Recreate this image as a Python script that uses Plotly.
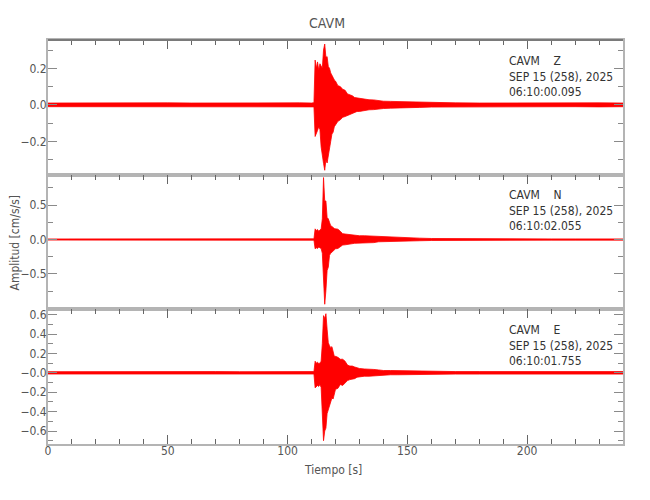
import plotly.graph_objects as go

# ---- data (envelope of each component) ----
t = [0, 10, 20, 30, 40, 50, 60, 70, 80, 90, 100, 105, 110, 111,
     111.5, 112, 112.5, 113, 113.5, 114, 114.5, 115, 115.5, 116, 116.5, 117, 117.5,
     118, 118.5, 119, 119.5, 120, 121, 122, 123, 124, 125, 126, 127, 128, 129, 130,
     132, 134, 136, 138, 140, 143, 146, 150, 155, 160, 170, 180, 190, 200, 210, 220, 230, 240]

z_upper = [0.010, 0.011, 0.010, 0.011, 0.010, 0.011, 0.010, 0.011, 0.010, 0.011, 0.010, 0.011, 0.010, 0.012,
           0.245, 0.200, 0.235, 0.190, 0.225, 0.210, 0.200, 0.300, 0.333, 0.260, 0.264, 0.210, 0.200,
           0.175, 0.165, 0.150, 0.136, 0.130, 0.105, 0.100, 0.085, 0.080, 0.060, 0.055, 0.050, 0.040, 0.038, 0.036,
           0.030, 0.028, 0.027, 0.022, 0.020, 0.019, 0.018, 0.016, 0.014, 0.012, 0.011, 0.010, 0.011, 0.010, 0.011, 0.010, 0.011, 0.010]
z_lower = [-0.010, -0.010, -0.011, -0.010, -0.011, -0.010, -0.011, -0.010, -0.011, -0.010, -0.011, -0.010, -0.011, -0.011,
           -0.173, -0.150, -0.140, -0.120, -0.135, -0.230, -0.264, -0.320, -0.358, -0.300, -0.318, -0.270, -0.245,
           -0.200, -0.160, -0.150, -0.120, -0.109, -0.090, -0.082, -0.068, -0.064, -0.058, -0.055, -0.050, -0.040, -0.036, -0.036,
           -0.030, -0.027, -0.026, -0.022, -0.020, -0.018, -0.018, -0.016, -0.014, -0.012, -0.011, -0.010, -0.011, -0.010, -0.011, -0.010, -0.011, -0.010]

n_upper = [0.008, 0.008, 0.009, 0.008, 0.008, 0.009, 0.008, 0.008, 0.009, 0.008, 0.008, 0.009, 0.008, 0.010,
           0.155, 0.130, 0.145, 0.120, 0.140, 0.150, 0.300, 0.900, 0.560, 0.560, 0.320, 0.300, 0.250,
           0.200, 0.190, 0.170, 0.160, 0.155, 0.150, 0.120, 0.085, 0.080, 0.075, 0.070, 0.065, 0.058, 0.058, 0.055,
           0.055, 0.052, 0.048, 0.036, 0.034, 0.030, 0.030, 0.025, 0.020, 0.015, 0.012, 0.009, 0.009, 0.009, 0.009, 0.009, 0.009, 0.009]
n_lower = [-0.008, -0.009, -0.008, -0.008, -0.009, -0.008, -0.008, -0.009, -0.008, -0.008, -0.009, -0.008, -0.008, -0.010,
           -0.135, -0.120, -0.130, -0.110, -0.120, -0.130, -0.200, -0.500, -0.940, -0.740, -0.450, -0.400, -0.230,
           -0.200, -0.180, -0.160, -0.140, -0.135, -0.130, -0.110, -0.080, -0.077, -0.070, -0.070, -0.060, -0.055, -0.053, -0.052,
           -0.053, -0.050, -0.045, -0.033, -0.030, -0.028, -0.028, -0.022, -0.018, -0.014, -0.011, -0.009, -0.009, -0.009, -0.009, -0.009, -0.009, -0.009]

e_upper = [0.012, 0.013, 0.012, 0.012, 0.013, 0.012, 0.012, 0.013, 0.012, 0.012, 0.013, 0.012, 0.012, 0.013,
           0.120, 0.100, 0.110, 0.095, 0.100, 0.120, 0.300, 0.590, 0.560, 0.610, 0.450, 0.310, 0.280,
           0.260, 0.270, 0.200, 0.170, 0.170, 0.160, 0.140, 0.140, 0.120, 0.080, 0.070, 0.070, 0.060, 0.050, 0.045,
           0.040, 0.040, 0.035, 0.030, 0.024, 0.024, 0.022, 0.020, 0.018, 0.016, 0.013, 0.013, 0.013, 0.013, 0.013, 0.013, 0.013, 0.013]
e_lower = [-0.012, -0.012, -0.013, -0.012, -0.012, -0.013, -0.012, -0.012, -0.013, -0.012, -0.012, -0.013, -0.012, -0.012,
           -0.155, -0.140, -0.130, -0.140, -0.120, -0.150, -0.400, -0.700, -0.600, -0.570, -0.420, -0.380, -0.330,
           -0.280, -0.260, -0.270, -0.200, -0.170, -0.160, -0.120, -0.130, -0.110, -0.080, -0.070, -0.065, -0.060, -0.045, -0.040,
           -0.035, -0.035, -0.030, -0.025, -0.020, -0.020, -0.020, -0.018, -0.016, -0.015, -0.013, -0.013, -0.013, -0.013, -0.013, -0.013, -0.013, -0.013]

station = "CAVM"
components = ["Z", "N", "E"]
date_text = "SEP 15 (258), 2025"
start_times = ["06:10:00.095", "06:10:02.055", "06:10:01.755"]

y_ranges = [[-0.382, 0.355], [-1.014, 0.942], [-0.734, 0.655]]
y_tickvals = [[-0.2, 0.0, 0.2], [-0.5, 0.0, 0.5], [-0.6, -0.4, -0.2, 0.0, 0.2, 0.4, 0.6]]
y_ticktext = [["\u22120.2", "0.0", "0.2"], ["\u22120.5", "0.0", "0.5"],
              ["\u22120.6", "\u22120.4", "\u22120.2", "\u22120.0", "0.2", "0.4", "0.6"]]
y_minor = [0.1, 0.25, 0.1]

x_range = [0, 240]
x_ticks = [0, 50, 100, 150, 200]

# ---- figure ----
FONT = "DejaVu Sans Condensed, Liberation Sans Narrow, Arial Narrow, sans-serif"
TXT = "#555555"
AXC = "#b4b4b4"
RED = "#ff0000"

W, H = 650, 500
ML, MR, MT, MB = 48, 27, 40, 56
PW, PH = W - ML - MR, H - MT - MB

fig = go.Figure()
uppers = [z_upper, n_upper, e_upper]
lowers = [z_lower, n_lower, e_lower]
for i in range(3):
    xa = "x" if i == 0 else f"x{i+1}"
    ya = "y" if i == 0 else f"y{i+1}"
    fig.add_trace(go.Scatter(x=t, y=lowers[i], mode="lines", line=dict(color=RED, width=0.8),
                             xaxis=xa, yaxis=ya, showlegend=False, hoverinfo="skip"))
    fig.add_trace(go.Scatter(x=t, y=uppers[i], mode="lines", line=dict(color=RED, width=0.8),
                             fill="tonexty", fillcolor=RED,
                             xaxis=xa, yaxis=ya, showlegend=False, hoverinfo="skip"))

domains = [[2/3, 1.0], [1/3, 2/3], [0.0, 1/3]]
layout = dict(
    width=W, height=H,
    margin=dict(l=ML, r=MR, t=MT, b=MB, autoexpand=False),
    paper_bgcolor="white", plot_bgcolor="white",
    font=dict(family=FONT, size=12, color=TXT),
    showlegend=False,
)
for i in range(3):
    xkey = "xaxis" if i == 0 else f"xaxis{i+1}"
    ykey = "yaxis" if i == 0 else f"yaxis{i+1}"
    ya = "y" if i == 0 else f"y{i+1}"
    xa = "x" if i == 0 else f"x{i+1}"
    bottom = (i == 2)
    layout[xkey] = dict(
        domain=[0, 1], anchor=ya, range=x_range, tickvals=x_ticks,
        side="bottom" if bottom else "top",
        showticklabels=bottom, ticks="inside", ticklen=9, tickwidth=1, tickcolor="#666666",
        mirror="ticks" if bottom else True,
        showline=True, linecolor=AXC, linewidth=2, showgrid=False, zeroline=False,
        minor=dict(tickmode="linear", tick0=0, dtick=10, ticks="inside", ticklen=5,
                   tickcolor="#666666", tickwidth=1, showgrid=False),
        tickfont=dict(family=FONT, size=12, color=TXT),
        ticklabelstandoff=-5,
    )
    if i > 0:
        layout[xkey]["matches"] = "x"
    layout[ykey] = dict(
        domain=domains[i], anchor=xa, range=y_ranges[i],
        tickmode="array", tickvals=y_tickvals[i], ticktext=y_ticktext[i],
        ticks="inside", ticklen=9, tickwidth=1, tickcolor="#8a8a8a",
        mirror="ticks", showline=True, linecolor=AXC, linewidth=2,
        showgrid=False, zeroline=False, automargin=False,
        minor=dict(tickmode="linear", tick0=0, dtick=y_minor[i], ticks="inside", ticklen=5,
                   tickcolor="#8a8a8a", tickwidth=1, showgrid=False),
        tickfont=dict(family=FONT, size=12, color=TXT),
        ticklabelstandoff=-3, ticklabeloverflow="allow",
    )
fig.update_layout(**layout)

annotations = []
# title
annotations.append(dict(text=station, xref="paper", yref="paper",
                        x=(327 - ML) / PW, y=(H - MB - 22.7) / PH,
                        xanchor="center", yanchor="middle", showarrow=False,
                        font=dict(family=FONT, size=14, color=TXT)))
# axis titles
annotations.append(dict(text="Tiempo [s]", xref="paper", yref="paper",
                        x=(333 - ML) / PW, y=(H - MB - 470) / PH,
                        xanchor="center", yanchor="middle", showarrow=False,
                        font=dict(family=FONT, size=12, color=TXT)))
annotations.append(dict(text="Amplitud [cm/s/s]", xref="paper", yref="paper",
                        x=(14 - ML) / PW, y=(H - MB - 242.5) / PH, textangle=-90,
                        xanchor="center", yanchor="middle", showarrow=False,
                        font=dict(family=FONT, size=12, color=TXT)))
# panel labels
panel_h = PH / 3
for i in range(3):
    xa = "x" if i == 0 else f"x{i+1}"
    ya = "y" if i == 0 else f"y{i+1}"
    text = "<br>".join([station + "\u00a0\u00a0\u00a0\u00a0" + components[i], date_text, start_times[i]])
    annotations.append(dict(text=text, xref=f"{xa} domain", yref=f"{ya} domain",
                            x=(506.7 - ML) / PW, y=1 - 36 / panel_h, align="left",
                            xanchor="left", yanchor="middle", showarrow=False,
                            font=dict(family=FONT, size=12, color="#333333")))
fig.update_layout(annotations=annotations)

# darker frame line at top of first panel
fig.add_shape(type="line", xref="paper", yref="paper", x0=0, x1=1, y0=1, y1=1,
              line=dict(color="#7a7a7a", width=2), layer="above")

fig.write_html("out.html", config={"displayModeBar": False},
               post_script="document.body.style.margin='0';")
